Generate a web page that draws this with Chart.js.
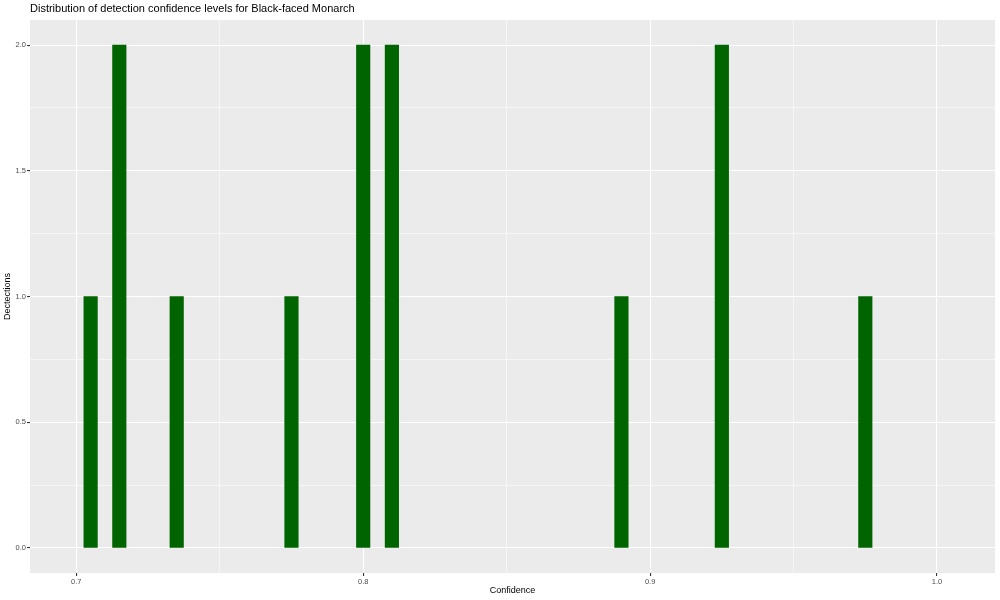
<!DOCTYPE html>
<html><head><meta charset="utf-8">
<script src="https://cdn.jsdelivr.net/npm/chart.js@4/dist/chart.umd.min.js"></script>
<style>html,body{margin:0;padding:0;background:#fff}#wrap{width:1000px;height:600px}</style>
</head><body><div id="wrap"><canvas id="c" width="1000" height="600"></canvas></div>
<script>
const chartTitle = 'Distribution of detection confidence levels for Black-faced Monarch';
const binCenters = [0.705, 0.715, 0.735, 0.775, 0.800, 0.810, 0.890, 0.925, 0.975];
const detections = [1, 2, 1, 1, 2, 2, 1, 2, 1];
const xMajorTicks = [0.7, 0.8, 0.9, 1.0];
const xMinorTicks = [0.75, 0.85, 0.95];
const yMajorTicks = [0, 0.5, 1.0, 1.5, 2.0];
const yMinorTicks = [0.25, 0.75, 1.25, 1.75];

const panelBg = {
  id: 'panelBg',
  beforeDraw(chart) {
    const a = chart.chartArea, ctx = chart.ctx;
    ctx.save(); ctx.fillStyle = '#EBEBEB';
    ctx.fillRect(a.left, a.top, a.right - a.left, a.bottom - a.top);
    ctx.restore();
  },
  afterDraw(chart) {
    const a = chart.chartArea, ctx = chart.ctx;
    ctx.save();
    ctx.fillStyle = '#000';
    ctx.font = '11px "Liberation Sans"';
    ctx.textBaseline = 'middle'; ctx.textAlign = 'left';
    ctx.fillText(chartTitle, a.left, 9);
    ctx.restore();
  }
};
function mkTicks(major, minor) {
  return major.map(v => ({value: v, major: true})).concat(minor.map(v => ({value: v, major: false}))).sort((a, b) => a.value - b.value);
}
const isMajor = (ctx) => ctx.tick && ctx.tick.major;

new Chart(document.getElementById('c'), {
  type: 'bar',
  data: {
    datasets: [{
      data: binCenters.map((x, i) => ({x: x, y: detections[i]})),
      backgroundColor: '#006400',
      borderWidth: 0,
      barThickness: 13.5
    }]
  },
  plugins: [panelBg],
  options: {
    responsive: false, animation: false,
    layout: {padding: {left: 0, right: 5, top: 20, bottom: 0}},
    plugins: {
      legend: {display: false}, tooltip: {enabled: false}, title: {display: false}
    },
    scales: {
      x: {
        type: 'linear', min: 0.68387, max: 1.0202, offset: false,
        afterBuildTicks(s) { s.ticks = mkTicks(xMajorTicks, xMinorTicks); },
        afterFit(s) { s.height = 27; },
        grid: {offset: false, color: '#FFFFFF', lineWidth: c => isMajor(c) ? 1.1 : 0.55,
          tickColor: c => isMajor(c) ? '#333333' : 'rgba(0,0,0,0)', tickLength: 3},
        border: {display: false},
        ticks: {autoSkip: false, maxRotation: 0, padding: 1, color: '#4D4D4D', font: {family: 'Liberation Sans', size: 7.5},
          callback: function(v, i, t) { return t[i].major ? v.toFixed(1) : ''; }},
        title: {display: true, text: 'Confidence', color: '#000', font: {family: 'Liberation Sans', size: 9}, padding: {top: 2, bottom: 4}}
      },
      y: {
        type: 'linear', min: -0.1, max: 2.1,
        afterBuildTicks(s) { s.ticks = mkTicks(yMajorTicks, yMinorTicks); },
        afterFit(s) { s.width = 30; },
        grid: {color: '#FFFFFF', lineWidth: c => isMajor(c) ? 1.1 : 0.55,
          tickColor: c => isMajor(c) ? '#333333' : 'rgba(0,0,0,0)', tickLength: 3},
        border: {display: false},
        ticks: {autoSkip: false, padding: 1, color: '#4D4D4D', font: {family: 'Liberation Sans', size: 7.5},
          callback: function(v, i, t) { return t[i].major ? v.toFixed(1) : ''; }},
        title: {display: true, text: 'Dectections', color: '#000', font: {family: 'Liberation Sans', size: 9}, padding: {top: 2, bottom: 2}}
      }
    }
  }
});
</script></body></html>
